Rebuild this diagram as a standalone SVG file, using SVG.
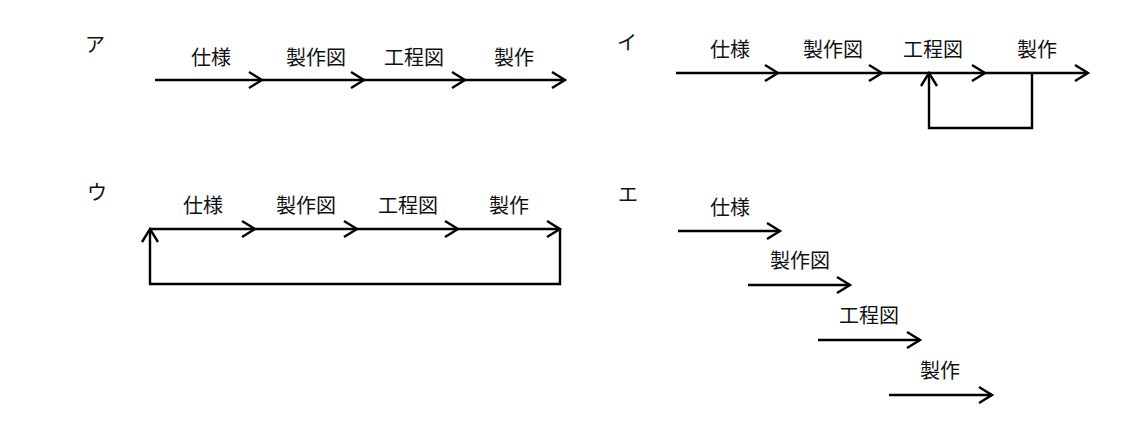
<svg xmlns="http://www.w3.org/2000/svg" width="1146" height="445" viewBox="0 0 1146 445">
<defs>
<marker id="a" markerUnits="userSpaceOnUse" markerWidth="30" markerHeight="30" viewBox="-15 -15 30 30" refX="0" refY="0" orient="auto">
<path d="M-13,-8 L0,0 L-13,8" fill="none" stroke="#000" stroke-width="2.4"/>
</marker>
</defs>
<style>
text{font-family:"Noto Sans CJK JP","Noto Sans CJK SC",sans-serif;font-size:20px;fill:#111;text-anchor:middle}
.l{stroke:#000;stroke-width:2.4;fill:none}
.m{marker-end:url(#a)}
</style>
<rect width="1146" height="445" fill="#fff"/>
<g id="labels">
<text x="95" y="52">ア</text>
<text x="627" y="50">イ</text>
<text x="97" y="200">ウ</text>
<text x="628" y="202">エ</text>
</g>
<g id="node-a">
<text x="211" y="65">仕様</text><text x="316" y="65">製作図</text><text x="414" y="65">工程図</text><text x="514" y="65">製作</text>
</g>
<g id="node-i">
<text x="730" y="57">仕様</text><text x="833" y="57">製作図</text><text x="933" y="57">工程図</text><text x="1037" y="57">製作</text>
</g>
<g id="node-u">
<text x="203" y="213">仕様</text><text x="306" y="213">製作図</text><text x="408" y="213">工程図</text><text x="509" y="213">製作</text>
</g>
<g id="node-e">
<text x="730" y="215">仕様</text><text x="800" y="268">製作図</text><text x="869" y="323">工程図</text><text x="940" y="378">製作</text>
</g>
<g id="connectors">
<line class="l m" x1="155" y1="80" x2="262" y2="80"/><line class="l m" x1="262" y1="80" x2="364" y2="80"/><line class="l m" x1="364" y1="80" x2="465" y2="80"/><line class="l m" x1="465" y1="80" x2="565" y2="80"/>
<line class="l m" x1="676" y1="73" x2="778" y2="73"/><line class="l m" x1="778" y1="73" x2="882" y2="73"/><line class="l m" x1="882" y1="73" x2="985" y2="73"/><line class="l m" x1="985" y1="73" x2="1088" y2="73"/>
<path class="l m" d="M1032,73 V128 H929 V73"/>
<line class="l m" x1="150" y1="229" x2="255" y2="229"/><line class="l m" x1="255" y1="229" x2="357" y2="229"/><line class="l m" x1="357" y1="229" x2="458" y2="229"/><line class="l m" x1="458" y1="229" x2="560" y2="229"/>
<path class="l m" d="M560,229 V284 H150 V229"/>
<line class="l m" x1="678" y1="231" x2="780" y2="231"/>
<line class="l m" x1="748" y1="285" x2="850" y2="285"/>
<line class="l m" x1="818" y1="340" x2="920" y2="340"/>
<line class="l m" x1="889" y1="395" x2="992" y2="395"/>
</g>
</svg>
